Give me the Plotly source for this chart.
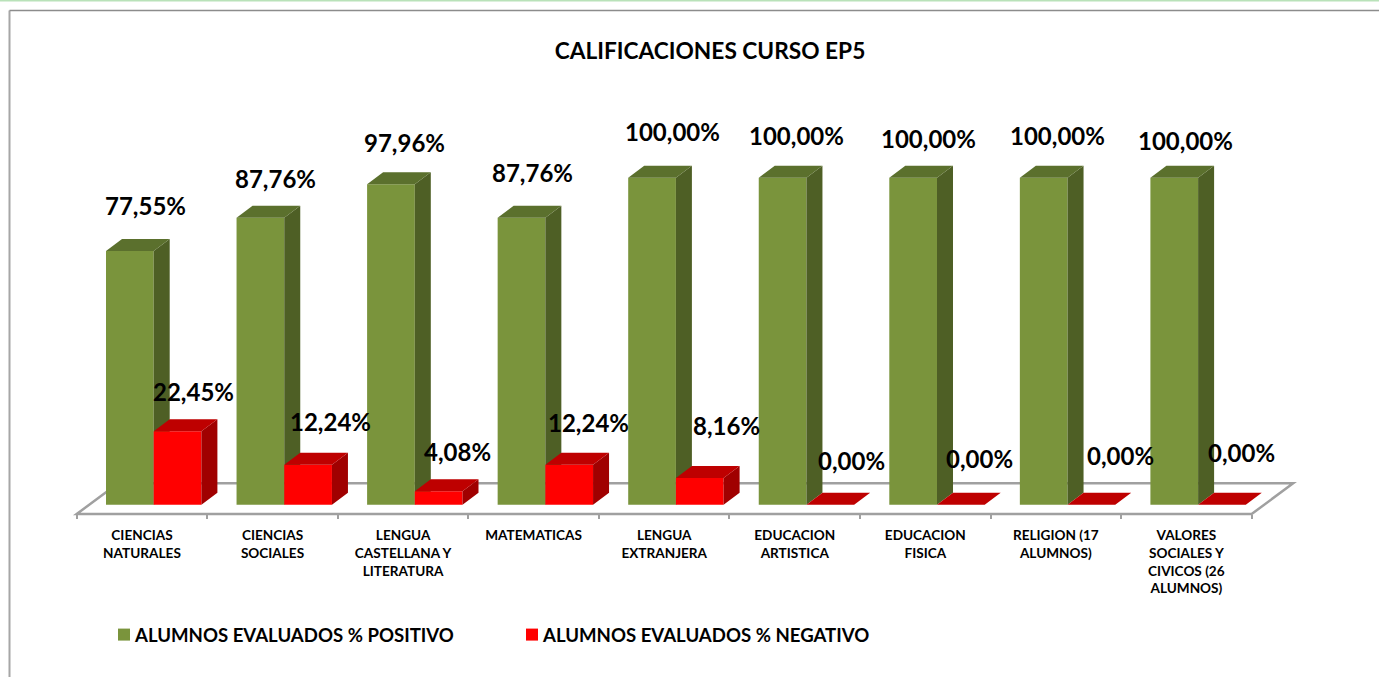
import plotly.graph_objects as go

# ---------- data ----------
categories = [
    "CIENCIAS<br>NATURALES", "CIENCIAS<br>SOCIALES", "LENGUA<br>CASTELLANA Y<br>LITERATURA",
    "MATEMATICAS", "LENGUA<br>EXTRANJERA", "EDUCACION<br>ARTISTICA", "EDUCACION<br>FISICA",
    "RELIGION (17<br>ALUMNOS)", "VALORES<br>SOCIALES Y<br>CIVICOS (26<br>ALUMNOS)",
]
positivo = [77.55, 87.76, 97.96, 87.76, 100.0, 100.0, 100.0, 100.0, 100.0]
negativo = [22.45, 12.24, 4.08, 12.24, 8.16, 0.0, 0.0, 0.0, 0.0]
series_names = ["ALUMNOS EVALUADOS % POSITIVO", "ALUMNOS EVALUADOS % NEGATIVO"]
title_text = "CALIFICACIONES CURSO EP5"

# ---------- layout constants ----------
W, H = 1379, 677
FONT = "Lato, Carlito, Calibri, sans-serif"
CAT_PX = 130.55          # pixels per category
X0_PX = 76.7 + CAT_PX / 2  # pixel of category 0 centre
Y0_PX = 504.7            # pixel of value 0
VAL_PX = 3.27            # pixels per percentage point
x_range = [-X0_PX / CAT_PX, (W - X0_PX) / CAT_PX]
y_range = [(Y0_PX - H) / VAL_PX, Y0_PX / VAL_PX]
BAR_W = 47.7 / CAT_PX
G_OFF = (106 - X0_PX) / CAT_PX
R_OFF = G_OFF + BAR_W
DX, DY = 16 / CAT_PX, 12 / VAL_PX  # oblique depth of a bar
FLOOR_Y = (Y0_PX - 514) / VAL_PX
FLOOR_DX, FLOOR_DY = 41.5 / CAT_PX, 30.7 / VAL_PX
n = len(categories)

# where the hand-placed value labels sit on the page (centre, pixels)
pos_label_px = [(145, 206), (275, 179), (404, 143), (532, 173), (672, 131), (796, 135), (928, 138), (1057, 135), (1185, 140)]
neg_label_px = [(193, 391), (330, 421), (457, 451), (588, 422), (726, 425), (851, 460), (979, 458), (1120, 455), (1241, 452)]


def side_poly(values, off):
    xs, ys = [], []
    for i, v in enumerate(values):
        r = i + off + BAR_W
        xs += [r, r + DX, r + DX, r, r, None]
        ys += [0, DY, v + DY, v, 0, None]
    return xs, ys


def top_poly(values, off):
    xs, ys = [], []
    for i, v in enumerate(values):
        l = i + off
        r = l + BAR_W
        xs += [l, r, r + DX, l + DX, l, None]
        ys += [v, v, v + DY, v + DY, v, None]
    return xs, ys


def face(xy, color, xa="x", ya="y"):
    return go.Scatter(x=xy[0], y=xy[1], mode="none", fill="toself", fillcolor=color,
                      showlegend=False, hoverinfo="skip", xaxis=xa, yaxis=ya)


fig = go.Figure()
idx = list(range(n))
fig.add_trace(go.Bar(x=idx, y=positivo, name=series_names[0], marker=dict(color="#7A943C", line_width=0),
                     offset=G_OFF, width=BAR_W))
fig.add_trace(face(side_poly(positivo, G_OFF), "#4E5F25"))
fig.add_trace(face(top_poly(positivo, G_OFF), "#5B702D"))
fig.add_trace(go.Bar(x=idx, y=negativo, name=series_names[1], marker=dict(color="#FF0000", line_width=0),
                     offset=R_OFF, width=BAR_W, xaxis="x2", yaxis="y2"))
fig.add_trace(face(side_poly(negativo, R_OFF), "#A00000", "x2", "y2"))
fig.add_trace(face(top_poly(negativo, R_OFF), "#BE0000", "x2", "y2"))

# floor of the 3D box, below all traces
fl, fr = -0.5, n - 0.5
floor_path = (f"M {fl} {FLOOR_Y} L {fr} {FLOOR_Y} L {fr + FLOOR_DX} {FLOOR_Y + FLOOR_DY} "
              f"L {fl + FLOOR_DX} {FLOOR_Y + FLOOR_DY} Z")
shapes = [
    dict(type="path", path=floor_path, xref="x", yref="y", layer="below",
         line=dict(color="#A0A0A0", width=2.5), fillcolor="white"),
    # surrounding frame and page line
    dict(type="line", xref="paper", yref="paper", x0=9.5 / W, x1=9.5 / W, y0=0, y1=1 - 10.5 / H,
         line=dict(color="#A6A6A6", width=2)),
    dict(type="line", xref="paper", yref="paper", x0=9.5 / W, x1=1, y0=1 - 10.5 / H, y1=1 - 10.5 / H,
         line=dict(color="#8C8C8C", width=1.5)),
    dict(type="line", xref="paper", yref="paper", x0=0, x1=1, y0=1 - 0.5 / H, y1=1 - 0.5 / H,
         line=dict(color="#B9E2B9", width=2)),
]

annotations = []
for values, targets in ((positivo, pos_label_px), (negativo, neg_label_px)):
    for i, (v, (cx, cy)) in enumerate(zip(values, targets)):
        annotations.append(dict(
            x=i, y=v, xref="x", yref="y", text=f"<b>{v:.2f}%</b>".replace(".", ","), showarrow=False,
            xanchor="center", yanchor="middle",
            xshift=cx - (X0_PX + i * CAT_PX), yshift=(Y0_PX - v * VAL_PX) - cy,
            font=dict(family=FONT, size=24, color="black")))

fig.update_layout(
    width=W, height=H, margin=dict(l=0, r=0, t=0, b=0), autosize=False,
    paper_bgcolor="white", plot_bgcolor="white", barmode="overlay",
    title=dict(text=f"<b>{title_text}</b>", x=710 / W, y=1 - 51 / H, xanchor="center", yanchor="middle",
               font=dict(family=FONT, size=22.7, color="black")),
    shapes=shapes, annotations=annotations,
    legend=dict(orientation="h", x=95 / W, y=1 - 616 / H, xanchor="left", yanchor="top",
                entrywidth=363, entrywidthmode="pixels", font=dict(family=FONT, size=18.6, color="black", weight="bold"),
                bgcolor="rgba(0,0,0,0)"),
    xaxis=dict(range=x_range, anchor="free", position=1 - 514 / H, tickmode="array", tickvals=idx,
               ticktext=categories, tickangle=0, showgrid=False, zeroline=False, showline=False,
               ticks="outside", ticklen=9, tickcolor="rgba(0,0,0,0)",
               tickfont=dict(family=FONT, size=13.6, color="black", weight="bold"),
               minor=dict(tickmode="array", tickvals=[i - 0.5 for i in range(n + 1)], ticks="outside", ticklen=4,
                          tickwidth=1.5, tickcolor="#A0A0A0", showgrid=False)),
    yaxis=dict(range=y_range, visible=False, fixedrange=True),
    xaxis2=dict(range=x_range, overlaying="x", visible=False),
    yaxis2=dict(range=y_range, overlaying="y", visible=False),
)

# The reference swatch sits closer to its text than Plotly's default legend gap.
nudge = ("document.body.style.margin='0';"
         "document.querySelectorAll('.legendsymbols').forEach(function(g){g.setAttribute('transform','translate(9,0)');});")
fig.write_html("out.html", config={"displayModeBar": False}, post_script=nudge)
